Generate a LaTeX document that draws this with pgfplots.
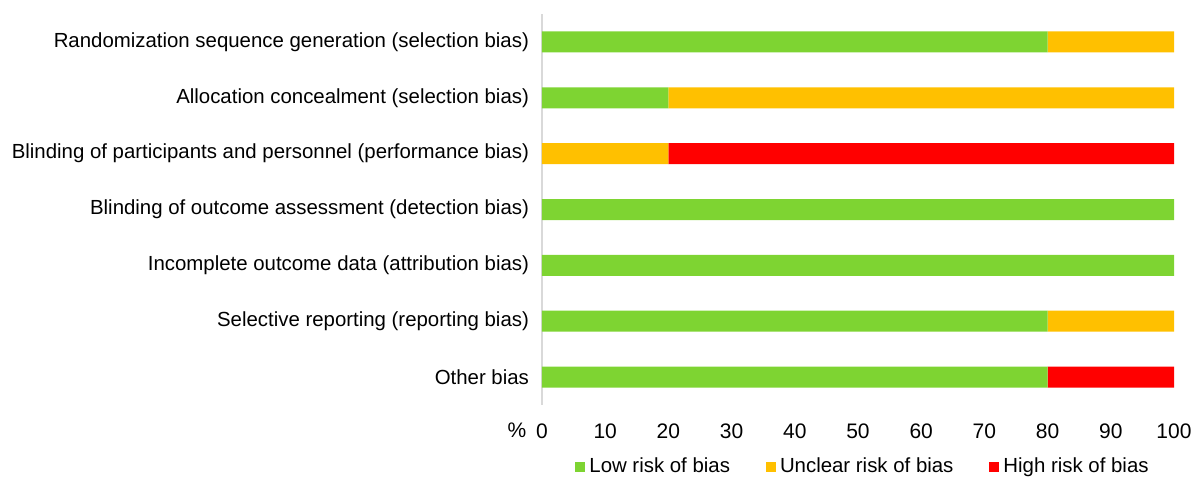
\documentclass[border=0pt]{standalone}
\usepackage{pgfplots}
\pgfplotsset{compat=1.18}
\usepackage{fontspec}
\setmainfont{Liberation Sans}
\definecolor{lowc}{RGB}{126,212,50}
\definecolor{uncc}{RGB}{255,192,0}
\definecolor{highc}{RGB}{255,0,0}
\definecolor{axc}{RGB}{217,217,217}
\begin{document}
\begin{tikzpicture}
\path[use as bounding box] (0,0) rectangle (599.5pt,238.5pt);
\begin{axis}[
  at={(271pt,36pt)}, anchor=south west,
  scale only axis, width=316pt, height=195.5pt,
  xbar stacked, bar width=10.5pt,
  xmin=0, xmax=100, ymin=-0.5, ymax=6.5,
  y dir=reverse,
  ytick={0,...,6},
  yticklabels={Randomization sequence generation (selection bias),Allocation concealment (selection bias),Blinding of participants and personnel (performance bias),Blinding of outcome assessment (detection bias),Incomplete outcome data (attribution bias),Selective reporting (reporting bias),Other bias},
  xtick={0,10,...,100},
  major tick length=0pt,
  axis y line*=left, axis x line*=bottom,
  x axis line style={draw=none},
  y axis line style={draw=axc, line width=0.6pt},
  yticklabel style={font=\fontsize{10.2}{12}\selectfont, xshift=-3pt},
  xticklabel style={font=\fontsize{10.5}{12}\selectfont, yshift=-6pt},
  /pgf/number format/assume math mode=true,
  legend style={draw=none, at={([xshift=3pt]0.5,-31pt)}, anchor=center, legend columns=3,
    font=\fontsize{10.2}{12}\selectfont, /tikz/every even column/.append style={column sep=16pt}},
  legend image code/.code={\fill[#1] (0pt,-2.5pt) rectangle (5pt,2.5pt);},
  clip=false,
]
\addplot[fill=lowc, draw=none] coordinates {(80,0) (20,1) (0,2) (100,3) (100,4) (80,5) (80,6)};
\addplot[fill=uncc, draw=none] coordinates {(20,0) (80,1) (20,2) (0,3) (0,4) (20,5) (0,6)};
\addplot[fill=highc, draw=none] coordinates {(0,0) (0,1) (80,2) (0,3) (0,4) (0,5) (20,6)};
\legend{Low risk of bias, Unclear risk of bias, High risk of bias}
\node[font=\fontsize{10.5}{12}\selectfont, anchor=center] at ([xshift=-12.5pt,yshift=-12.5pt]axis cs:0,6.5) {\%};
\end{axis}
\end{tikzpicture}
\end{document}
